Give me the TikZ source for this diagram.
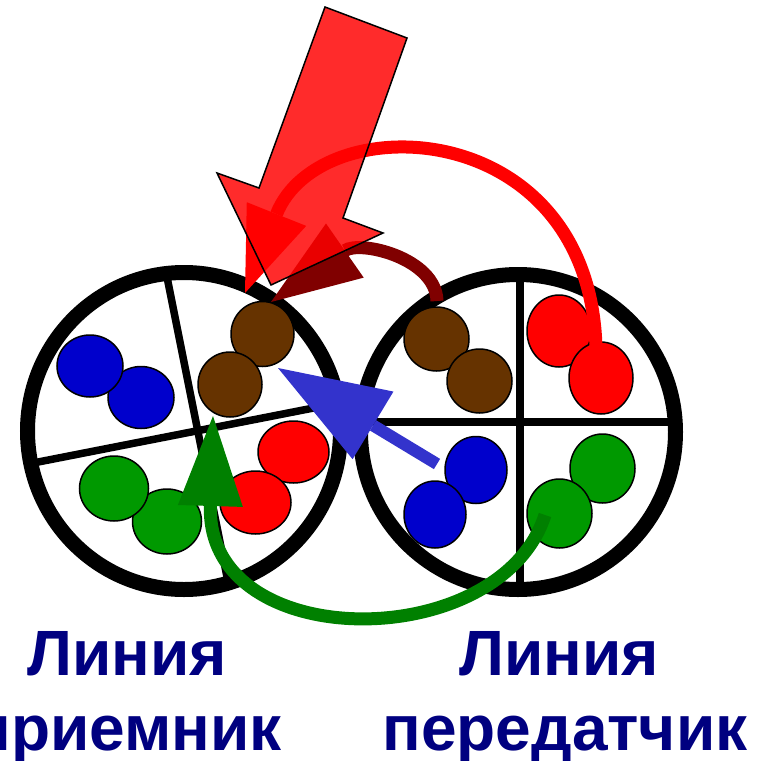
\documentclass[tikz,border=0pt]{standalone}
\usepackage{fontspec}
\setmainfont{Liberation Sans}
\usetikzlibrary{shapes.geometric,arrows.meta}

\definecolor{ballblue}{HTML}{0000CC}
\definecolor{ballbrown}{HTML}{663300}
\definecolor{ballred}{HTML}{FF0000}
\definecolor{ballgreen}{HTML}{009900}
\definecolor{arrowgreen}{HTML}{008000}
\definecolor{arrowblue}{HTML}{3333CC}
\definecolor{arrowdark}{HTML}{800000}
\definecolor{captionnavy}{HTML}{000080}

\begin{document}
\begin{tikzpicture}[x=1pt,y=-1pt,
  ring/.style={draw=black, line width=15pt},
  divider/.style={draw=black, line width=7.5pt},
  ball/.style={ellipse, draw=black, line width=1.5pt, inner sep=0pt},
  flow/.style={line width=13pt},
  caption/.style={text=captionnavy, font=\fontsize{64pt}{75pt}\selectfont\bfseries, inner sep=0pt, anchor=base}
]
\useasboundingbox (0,0) rectangle (756,761);

% cable cross-sections: dividers first, ring on top
\draw[divider] (166.6,275) -- (228,582);
\draw[divider] (30,463.6) -- (339,403);
\draw[ring] (184,431) ellipse [x radius=156.5pt, y radius=158.5pt];

\draw[divider] (520,275) -- (520,589);
\draw[divider] (361,422) -- (675,422);
\draw[ring] (518,432) ellipse [x radius=157.5pt, y radius=157.5pt];

% left cable: twisted pairs
\node[ball, fill=ballblue, minimum width=66pt, minimum height=62pt] (lb2) at (141,397.5) {};
\node[ball, fill=ballblue, minimum width=66pt, minimum height=62pt] (lb1) at (90,366) {};
\node[ball, fill=ballbrown, minimum width=63pt, minimum height=65pt] (ln1) at (262.5,334) {};
\node[ball, fill=ballbrown, minimum width=64pt, minimum height=65pt] (ln2) at (230,384.5) {};
\node[ball, fill=ballred, minimum width=71pt, minimum height=62pt] (lr1) at (293.5,452) {};
\node[ball, fill=ballred, minimum width=71pt, minimum height=63pt] (lr2) at (255.5,502.5) {};
\node[ball, fill=ballgreen, minimum width=69pt, minimum height=65pt] (lg2) at (167,521.5) {};
\node[ball, fill=ballgreen, minimum width=69pt, minimum height=65pt] (lg1) at (114,488.5) {};

% right cable: twisted pairs
\node[ball, fill=ballbrown, minimum width=65pt, minimum height=64pt] (rn1) at (436.5,339) {};
\node[ball, fill=ballbrown, minimum width=65pt, minimum height=64pt] (rn2) at (479.5,381) {};
\node[ball, fill=ballred, minimum width=64pt, minimum height=72pt] (rr1) at (559,331) {};
\node[ball, fill=ballred, minimum width=64pt, minimum height=72pt] (rr2) at (601,378) {};
\node[ball, fill=ballblue, minimum width=62pt, minimum height=67pt] (rb1) at (476,470) {};
\node[ball, fill=ballblue, minimum width=62pt, minimum height=67pt] (rb2) at (435,514.5) {};
\node[ball, fill=ballgreen, minimum width=65pt, minimum height=69pt] (rg1) at (602.5,468.5) {};
\node[ball, fill=ballgreen, minimum width=65pt, minimum height=69pt] (rg2) at (559.5,513.5) {};

% arrow end points
\coordinate (gTail) at (545,515);
\coordinate (gTip) at (213,416);
\coordinate (bTail) at (437,464);
\coordinate (bTip) at (278,368);
\coordinate (dTail) at (437,301);
\coordinate (dTip) at (271,302);
\coordinate (rTail) at (596,348);
\coordinate (rTip) at (245,293);

% pair swaps
\draw[flow, draw=arrowgreen, -{Triangle[length=90pt,width=65pt,line width=0pt]}]
  (gTail) .. controls (500,655) and (206,655) .. (gTip);
\draw[flow, line width=12pt, draw=arrowblue, -{Triangle[length=111pt,width=79pt,line width=0pt]}]
  (bTail) -- (bTip);
\draw[flow, draw=arrowdark, -{Triangle[length=90pt,width=66pt,line width=0pt]}]
  (dTail) .. controls (436,258) and (360,240) .. (dTip);
\draw[flow, draw=ballred, -{Triangle[length=85pt,width=64pt,line width=0pt]}]
  (rTail) .. controls (590,115) and (320,105) .. (rTip);

% big block arrow
\filldraw[fill=red, fill opacity=0.83, draw=black, line width=1.5pt, line join=miter]
  (325,7) -- (407,38) -- (343,218) -- (383,233) -- (271,285) -- (217,173) -- (259,188) -- cycle;

% captions
\node[caption] (recvA) at (127,675) {Линия};
\node[caption] (recvB) at (127,750) {приемник};
\node[caption] (sendA) at (559,675) {Линия};
\node[caption] (sendB) at (565,750) {передатчик};
\end{tikzpicture}
\end{document}
